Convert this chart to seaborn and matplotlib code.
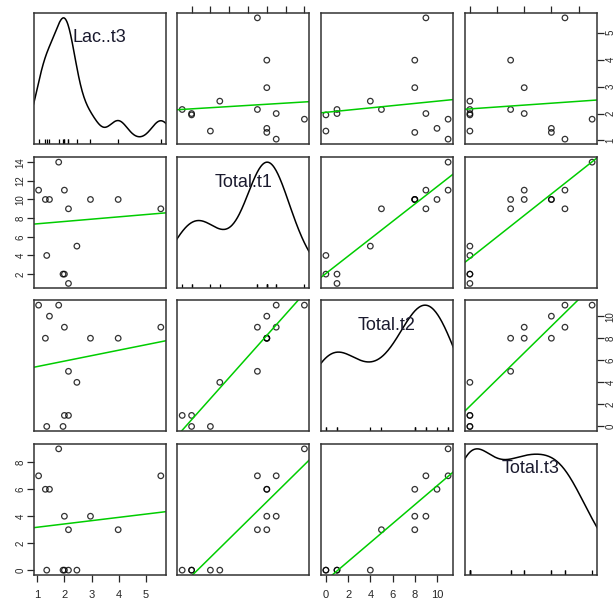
import numpy as np
import pandas as pd
import seaborn as sns
import matplotlib
matplotlib.use("Agg")
import matplotlib.pyplot as plt

# data (14 cases)
lac_t3 = [1.05, 1.3, 1.45, 1.79, 2.0, 2.15, 2.15, 1.35, 1.95, 2.0, 2.46, 2.96, 3.98, 5.55]
total_t1 = [11, 10, 10, 14, 11, 9, 1, 4, 2, 2, 5, 10, 10, 9]
total_t2 = [11, 8, 10, 11, 9, 5, 1, 0, 0, 1, 4, 8, 8, 9]
total_t3 = [7, 6, 6, 9, 4, 3, 0, 0, 0, 0, 0, 4, 3, 7]

var_names = ["Lac..t3", "Total.t1", "Total.t2", "Total.t3"]
var_ticks = [[1, 2, 3, 4, 5],
             [2, 4, 6, 8, 10, 12, 14],
             [0, 2, 4, 6, 8, 10],
             [0, 2, 4, 6, 8]]

df = pd.DataFrame({"Lac..t3": lac_t3, "Total.t1": total_t1,
                   "Total.t2": total_t2, "Total.t3": total_t3})

sns.set_style("white")
plt.rcParams["font.family"] = ["Liberation Sans", "DejaVu Sans"]

W, H = 614, 599
fig = plt.figure(figsize=(W / 100, H / 100), dpi=100)

lefts = [33.7, 177.3, 321, 465]
tops = [13, 157.3, 300.3, 444]
pw, ph = 132, 131


def lims(v):
    lo, hi = min(v), max(v)
    pad = 0.04 * (hi - lo)
    return lo - pad, hi + pad


def bw_nrd0(v):
    v = np.asarray(v, float)
    sd = v.std(ddof=1)
    iqr = np.subtract(*np.percentile(v, [75, 25]))
    lo = min(sd, iqr / 1.34)
    return 0.9 * lo * len(v) ** (-0.2), sd


green = "#00CD00"

for i, yname in enumerate(var_names):
    for j, xname in enumerate(var_names):
        ax = fig.add_axes([lefts[j] / W, (H - tops[i] - ph) / H, pw / W, ph / H])
        x = df[xname]
        ax.set_xticks(var_ticks[j])
        if i == j:
            bw, sd = bw_nrd0(x)
            sns.kdeplot(x=x, ax=ax, bw_method=bw / sd, cut=3, gridsize=400,
                        color="black", linewidth=1.1)
            sns.rugplot(x=x, ax=ax, height=0.035, color="black", linewidth=0.9)
            top = ax.lines[0].get_ydata().max()
            ax.set_yticks([])
            ax.set_ylim(-0.04 * top, 1.04 * top)
            ax.text(0.5, 0.81, yname, transform=ax.transAxes, ha="center",
                    va="center", fontsize=13, color="#1a1a2e")
        else:
            sns.regplot(x=x, y=df[yname], ax=ax, ci=None, truncate=False,
                        scatter_kws={"s": 16, "facecolors": "none",
                                     "edgecolors": "black", "linewidths": 0.9},
                        line_kws={"color": green, "linewidth": 1.1})
            ax.set_yticks(var_ticks[i])
            ax.set_ylim(*lims(df[yname]))
        ax.set_xlim(*lims(x))
        ax.set_xlabel("")
        ax.set_ylabel("")

        for s in ax.spines.values():
            s.set_visible(True)
            s.set_color("#333333")
            s.set_linewidth(1.1)

        bottom = (i == 3 and j % 2 == 0)
        topx = (i == 0 and j % 2 == 1)
        left = (j == 0 and i % 2 == 1)
        right = (j == 3 and i % 2 == 0)
        ax.tick_params(axis="x", bottom=bottom, labelbottom=bottom,
                       top=topx, labeltop=False, length=5, width=0.9,
                       direction="out", labelsize=8, pad=6)
        ax.tick_params(axis="y", left=left, labelleft=left, length=5,
                       width=0.9, direction="out", labelsize=8, pad=4)
        ax.tick_params(axis="y", right=right, labelright=right,
                       labelsize=7, pad=1)
        for lab in ax.get_yticklabels():
            lab.set_rotation(90)
            lab.set_va("center")

fig.savefig("out.png", dpi=100, facecolor="white")
